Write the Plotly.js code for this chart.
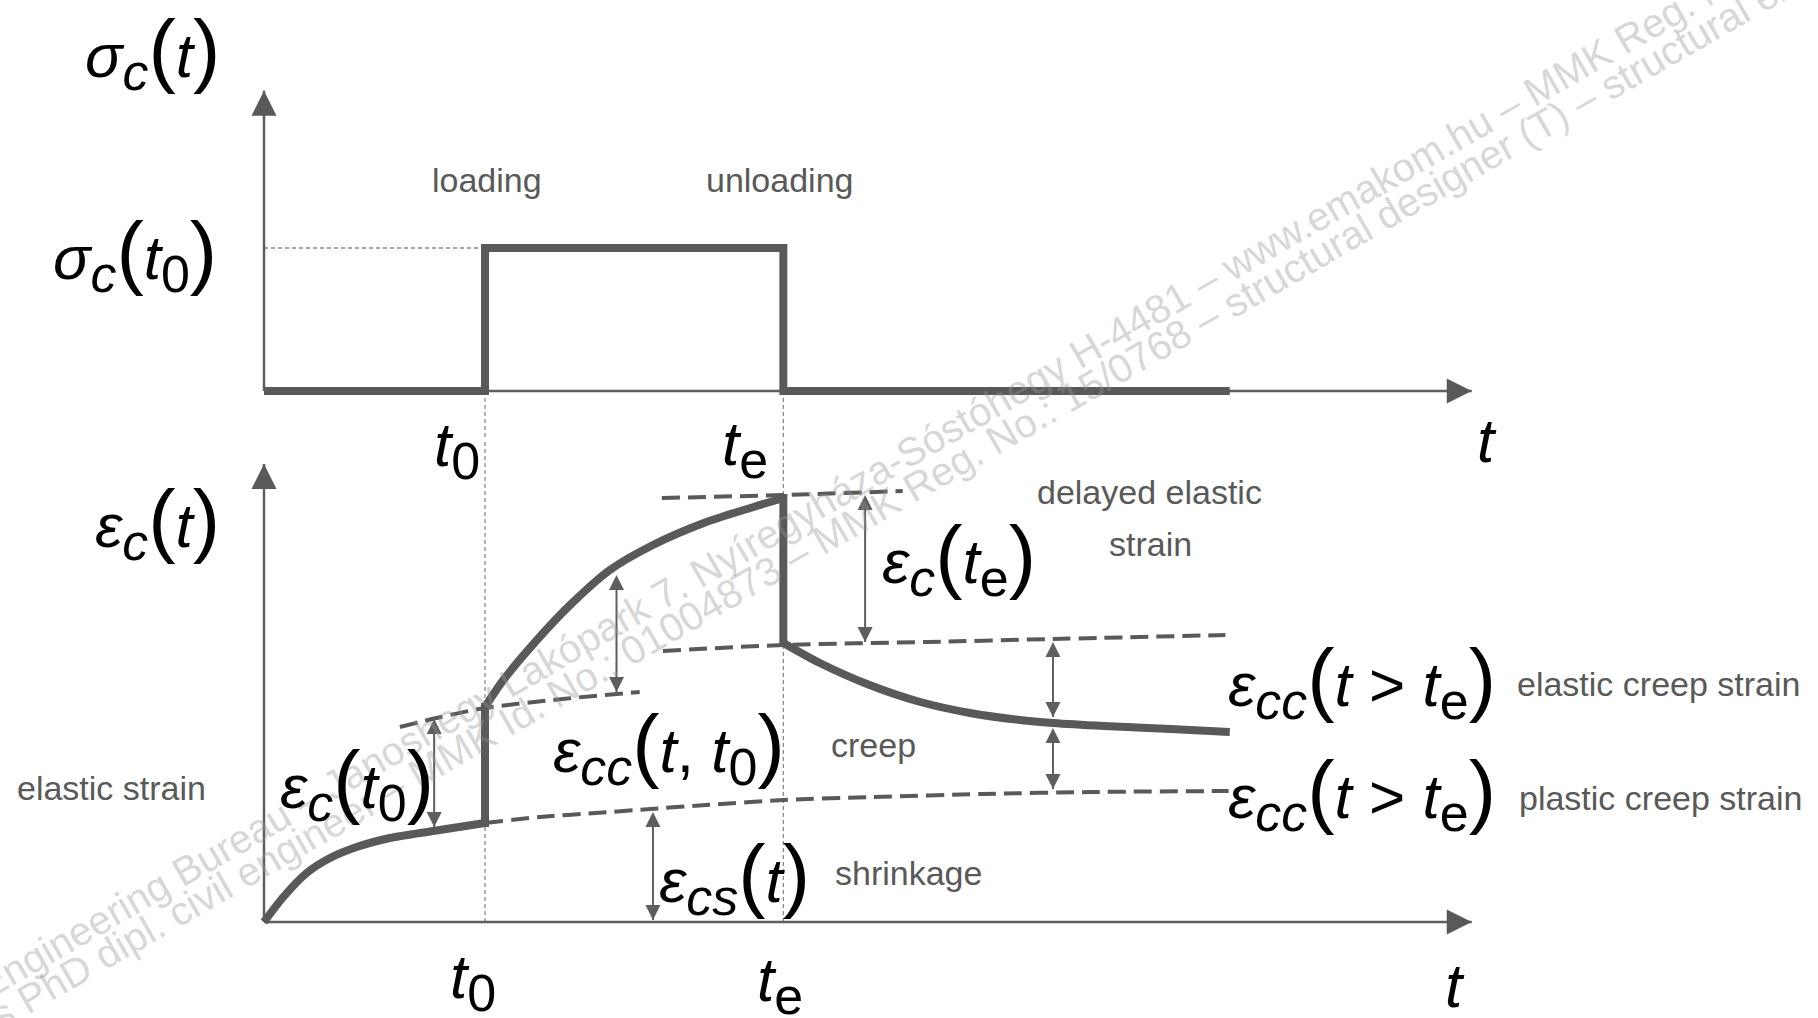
<!DOCTYPE html>
<html>
<head>
<meta charset="utf-8">
<script src="https://cdn.plot.ly/plotly-3.0.1.min.js"></script>
<style>
  html, body { margin: 0; padding: 0; background: #fff; }
  #chart { width: 1818px; height: 1018px; }
  /* square caps close the corners where the jumps meet the curved branches */
  .tracejumps .js-line { stroke-linecap: square; }
</style>
</head>
<body>
<div id="chart"></div>
<script>
// ---- characteristic instants (time units) ----
const t0 = 2.0;          // loading
const te = 4.7;          // unloading
const tEnd = 8.74;       // end of drawn history
const tAxisEnd = 10.93;  // tip of the time axes
const sigmaAxisTop = 2.10;
const epsAxisTop = 4.58;

// ---- stress history sigma_c(t) ----
const stressT = [0, t0, t0, te, te, tEnd];
const stressV = [0, 0, 1, 1, 0, 0];

// ---- total strain eps_c(t) ----
// before loading (shrinkage only)
const shrinkOnlyT = [0, 0.175, 0.386, 0.597, 0.839, 1.14, 1.53, t0];
const shrinkOnlyV = [0, 0.25, 0.49, 0.64, 0.75, 0.84, 0.91, 0.99];
// under load
const loadedT = [t0, 2.166, 2.47, 2.77, 3.13, 3.52, 3.98, 4.43, te];
const loadedV = [2.15, 2.42, 2.82, 3.17, 3.52, 3.77, 3.99, 4.15, 4.24];
// after unloading (recovery)
const recoveryT = [te, 5.03, 5.48, 5.94, 6.39, 6.84, 7.14, 7.60, 8.20, tEnd];
const recoveryV = [2.79, 2.59, 2.37, 2.20, 2.09, 2.02, 1.99, 1.96, 1.93, 1.90];
// instantaneous jumps at loading and unloading
const jumpT = [t0, t0, null, te, te];
const jumpV = [0.99, 2.15, null, 4.24, 2.79];

// ---- dashed reference curves ----
const elasticRefT = [1.23, 1.6, t0, 2.7, 3.40];
const elasticRefV = [1.95, 2.05, 2.14, 2.23, 2.30];
const shrinkRefT = [t0, 2.5, 3.0, 3.5, 4.0, te, 5.5, 6.5, 7.5, 8.73];
const shrinkRefV = [0.99, 1.05, 1.09, 1.13, 1.17, 1.22, 1.25, 1.28, 1.30, 1.31];
const peakRefT = [3.60, te, 5.78];
const peakRefV = [4.24, 4.27, 4.31];
const residRefT = [3.61, te, 6.0, 7.14, 8.70];
const residRefV = [2.71, 2.77, 2.80, 2.83, 2.87];

// ---- dimension arrows: time, lower end, upper end ----
const dimNames = ['elastic', 'creep', 'shrinkage', 'delayed', 'elasticCreep', 'plasticCreep'];
const dimT  = [1.54, 3.19, 3.52, 5.44, 7.14, 7.14];
const dimLo = [0.95, 2.30, 0.02, 2.80, 2.05, 1.33];
const dimHi = [2.03, 3.47, 1.10, 4.27, 2.80, 1.94];

// ---- text ----
const wordLabels = ['loading', 'unloading', 'delayed elastic', 'strain', 'creep', 'shrinkage',
                    'elastic strain', 'elastic creep strain', 'plastic creep strain'];
const watermarkLines = [
  'Engineering Bureau – Jánoshegy Lakópark 7. Nyíregyháza-Sóstóhegy H-4481 – www.emakom.hu – MMK Reg. No.',
  's PhD dipl. civil engineer – MMK Id. No.: 01004873 – MMK Reg. No.: 15/0768 – structural designer (T) – structural expert'
];

// ---- page geometry / scales ----
const W = 1818, H = 1018;
const X0PX = 264, XPER = 110.5;       // time origin and px per time unit
const S0PX = 391, SPER = 143;         // stress zero and px per unit
const E0PX = 922, EPER = 100;         // strain zero and px per unit
const SPLIT = 440;                    // boundary between the two panels
const split = 1 - SPLIT / H;

const DARK = '#595959';
const AXIS = '#5e5e5e';
const GUIDE = '#8a8a8a';
const FONT = '"Liberation Sans", Arial, sans-serif';

const stressAx = {xaxis: 'x', yaxis: 'y2'};
const strainAx = {xaxis: 'x', yaxis: 'y'};

const traces = [];
function line(ax, x, y, color, width, dash, shape, uid) {
  const tr = Object.assign({type: 'scatter', mode: 'lines', x, y,
    line: {color, width, dash: dash || 'solid', shape: shape || 'linear', smoothing: 0.8},
    hoverinfo: 'skip'}, ax);
  if (uid) tr.uid = uid;
  traces.push(tr);
}
function heads(ax, x, y, symbols, size, color) {
  traces.push(Object.assign({type: 'scatter', mode: 'markers', x, y,
    marker: {symbol: symbols, size, color, line: {width: 0}}, hoverinfo: 'skip'}, ax));
}

// thin guides
line(stressAx, [0, t0], [1, 1], GUIDE, 1.3, '4px,3px');
[t0, te].forEach(tt => {
  line(stressAx, [tt, tt], [0, -2], GUIDE, 1.3, '4px,3px');
  line(strainAx, [tt, tt], [0, 8], GUIDE, 1.3, '4px,3px');
});

// axes with arrowheads
line(stressAx, [0, tAxisEnd], [0, 0], AXIS, 2.5);
line(stressAx, [0, 0], [0, sigmaAxisTop], AXIS, 2.5);
heads(stressAx, [tAxisEnd, 0], [0, sigmaAxisTop], ['arrow-right', 'arrow-up'], 25, DARK);
line(strainAx, [0, tAxisEnd], [0, 0], AXIS, 2.5);
line(strainAx, [0, 0], [0, epsAxisTop], AXIS, 2.5);
heads(strainAx, [tAxisEnd, 0], [0, epsAxisTop], ['arrow-right', 'arrow-up'], 25, DARK);

// dashed reference curves
const DASH = '18px,8px';
line(strainAx, elasticRefT, elasticRefV, DARK, 4, DASH, 'spline');
line(strainAx, shrinkRefT, shrinkRefV, DARK, 4, DASH, 'spline');
line(strainAx, peakRefT, peakRefV, DARK, 4, DASH, 'spline');
line(strainAx, residRefT, residRefV, DARK, 4, DASH, 'spline');

// dimension arrows
dimNames.forEach((n, i) => {
  traces.push(Object.assign({type: 'scatter', mode: 'lines+markers', name: n,
    x: [dimT[i], dimT[i]], y: [dimLo[i], dimHi[i]],
    line: {color: AXIS, width: 2},
    marker: {symbol: ['arrow-down', 'arrow-up'], size: 15, color: AXIS, line: {width: 0}},
    hoverinfo: 'skip'}, strainAx));
});

// main histories
line(stressAx, stressT, stressV, DARK, 8);
line(strainAx, shrinkOnlyT, shrinkOnlyV, DARK, 8, null, 'spline');
line(strainAx, loadedT, loadedV, DARK, 8, null, 'spline');
line(strainAx, recoveryT, recoveryV, DARK, 8, null, 'spline');
line(strainAx, jumpT, jumpV, DARK, 8, null, 'linear', 'jumps');

// ---- labels ----
const MATH = 62, PAREN = 82, SUB = 52;
const it = s => `<i>${s}</i>`;
const sub = s => `<sub><span style="font-size:${SUB}px">${s}</span></sub>`;
const P = s => `<span style="font-size:${PAREN}px">${s}</span>`;
const tSub = s => it('t') + sub(s);

const mathLabels = [
  [it('σ') + sub(it('c')) + P('(') + it('t') + P(')'), 152, 52],
  [it('σ') + sub(it('c')) + P('(') + tSub('0') + P(')'), 135, 254],
  [it('ε') + sub(it('c')) + P('(') + it('t') + P(')'), 157, 522],
  [tSub('0'), 457, 450],
  [tSub('e'), 745, 449],
  [it('t'), 1487, 440],
  [tSub('0'), 473, 982],
  [tSub('e'), 780, 985],
  [it('t'), 1455, 985],
  [it('ε') + sub(it('c')) + P('(') + tSub('0') + P(')'), 357, 783],
  [it('ε') + sub(it('cc')) + P('(') + it('t') + ', ' + tSub('0') + P(')'), 669, 747],
  [it('ε') + sub(it('cs')) + P('(') + it('t') + P(')'), 734, 877],
  [it('ε') + sub(it('c')) + P('(') + tSub('e') + P(')'), 959, 558],
  [it('ε') + sub(it('cc')) + P('(') + it('t') + ' &gt; ' + tSub('e') + P(')'), 1362, 681],
  [it('ε') + sub(it('cc')) + P('(') + it('t') + ' &gt; ' + tSub('e') + P(')'), 1362, 793]
];
const wordPos = [[487, 180], [779, 180], [1149, 492], [1150, 544], [873, 745], [908, 873],
                 [111, 788], [1658, 684], [1660, 798]];

const annotations = [];
const px = x => x / W, py = y => 1 - y / H;

// watermark lines, placed by the centre of one of their words
const WM_SIZE = 40, WM_ANGLE = 30;
const ctx = document.createElement('canvas').getContext('2d');
ctx.font = WM_SIZE + 'px ' + FONT;
const wmAnchors = [['H-4481', 1130, 325], ['15/0768', 1125, 365]];
watermarkLines.forEach((txt, i) => {
  const [word, ax, ay] = wmAnchors[i];
  const k = txt.indexOf(word);
  const w = ctx.measureText(txt).width;
  const p = ctx.measureText(txt.slice(0, k)).width + ctx.measureText(word).width / 2;
  const off = w / 2 - p;
  const a = WM_ANGLE * Math.PI / 180;
  annotations.push({xref: 'paper', yref: 'paper', x: px(ax + Math.cos(a) * off), y: py(ay - Math.sin(a) * off),
    text: txt, showarrow: false, textangle: -WM_ANGLE, xanchor: 'center', yanchor: 'middle',
    font: {family: FONT, size: WM_SIZE, color: 'rgba(150,150,150,0.4)'}});
});

mathLabels.forEach(([txt, x, y]) => annotations.push({xref: 'paper', yref: 'paper', x: px(x), y: py(y),
  text: txt, showarrow: false, xanchor: 'center', yanchor: 'middle',
  font: {family: FONT, size: MATH, color: '#000'}}));
wordLabels.forEach((txt, i) => annotations.push({xref: 'paper', yref: 'paper', x: px(wordPos[i][0]), y: py(wordPos[i][1]),
  text: txt, showarrow: false, xanchor: 'center', yanchor: 'middle',
  font: {family: FONT, size: 34, color: DARK}}));

const layout = {
  width: W, height: H,
  margin: {l: 0, r: 0, t: 0, b: 0, pad: 0},
  paper_bgcolor: '#fff', plot_bgcolor: 'rgba(0,0,0,0)',
  showlegend: false,
  xaxis: {range: [-X0PX / XPER, (W - X0PX) / XPER], visible: false, fixedrange: true},
  yaxis: {domain: [0, split], range: [(E0PX - H) / EPER, (E0PX - SPLIT) / EPER], visible: false, fixedrange: true},
  yaxis2: {domain: [split, 1], range: [(S0PX - SPLIT) / SPER, S0PX / SPER], visible: false, fixedrange: true, anchor: 'x'},
  annotations
};

Plotly.newPlot('chart', traces, layout, {displayModeBar: false, staticPlot: true});
</script>
</body>
</html>
